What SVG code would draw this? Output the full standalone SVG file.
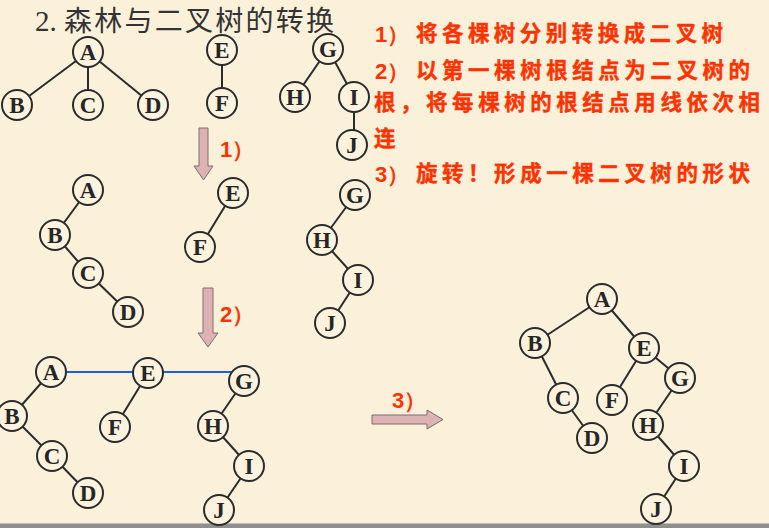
<svg xmlns="http://www.w3.org/2000/svg" width="769" height="528" viewBox="0 0 769 528">
<style>
.n circle{fill:#FCF2DD;stroke:#2b2b2b;stroke-width:2}
.n text{font-family:"Liberation Serif","Times New Roman",serif;font-weight:bold;font-size:23px;fill:#262626;text-anchor:middle}
.e line{stroke:#2b2b2b;stroke-width:2}
.b line{stroke:#1a5fe0;stroke-width:2}
.arr{fill:#DDB2B3;stroke:#7d6d6d;stroke-width:1}
.red{font-family:"Noto Sans CJK SC",sans-serif;font-weight:bold;font-size:21.5px;fill:#FF3300;stroke:#FF3300;stroke-width:0.4}
.dig{font-family:"Liberation Sans",Arial,sans-serif;font-weight:bold;font-size:22px;fill:#FF3300}
</style>
<rect x="0" y="0" width="769" height="528" fill="#FBF1DB"/>
<rect x="0" y="523" width="769" height="5" fill="#8f8f8f"/>
<rect x="0" y="523" width="769" height="1" fill="#bdbdbd"/>

<text x="35" y="31" fill="#333" font-size="28"><tspan font-family="Liberation Serif,serif" font-size="29">2.</tspan><tspan x="64" font-family="Noto Sans CJK SC,sans-serif" textLength="270" lengthAdjust="spacing">森林与二叉树的转换</tspan></text>

<g id="steps">
<text class="dig" x="375" y="42">1）</text>
<text class="red" x="416" y="41" textLength="307" lengthAdjust="spacing">将各棵树分别转换成二叉树</text>
<text class="dig" x="375" y="79">2）</text>
<text class="red" x="416" y="78" textLength="334" lengthAdjust="spacing">以第一棵树根结点为二叉树的</text>
<text class="red" x="374" y="110" textLength="386" lengthAdjust="spacing">根，将每棵树的根结点用线依次相</text>
<text class="red" x="374" y="146">连</text>
<text class="dig" x="375" y="182">3）</text>
<text class="red" x="416" y="181" textLength="334" lengthAdjust="spacing">旋转！形成一棵二叉树的形状</text>
</g>

<g id="arrows">
<polygon class="arr" points="199,128 208,128 208,166 213,166 203.5,180 194,166 199,166"/>
<text class="dig" x="220" y="157">1）</text>
<polygon class="arr" points="203,288 213,288 213,333 218,333 208,347 198,333 203,333"/>
<text class="dig" x="220" y="322">2）</text>
<polygon class="arr" points="372,415 427,415 427,410 443,419.5 427,429 427,424 372,424"/>
<text class="dig" x="392" y="408">3）</text>
</g>

<g id="connectors">
<g class="e">
<line x1="88" y1="52" x2="17" y2="105"/><line x1="88" y1="52" x2="88" y2="105"/><line x1="88" y1="52" x2="153" y2="105"/>
<line x1="222" y1="50" x2="222" y2="103"/>
<line x1="328" y1="49" x2="295" y2="97"/><line x1="328" y1="49" x2="354" y2="97"/><line x1="354" y1="97" x2="354" y2="145"/>
<line x1="88" y1="190" x2="55" y2="235"/><line x1="55" y1="235" x2="88" y2="273"/><line x1="88" y1="273" x2="128" y2="312"/>
<line x1="233" y1="193" x2="200" y2="247"/>
<line x1="355" y1="195" x2="322" y2="240"/><line x1="322" y1="240" x2="358" y2="280"/><line x1="358" y1="280" x2="330" y2="323"/>
<line x1="51" y1="372" x2="12" y2="416"/><line x1="12" y1="416" x2="52" y2="456"/><line x1="52" y1="456" x2="88" y2="493"/>
<line x1="148" y1="373" x2="115" y2="427"/>
<line x1="244" y1="381" x2="213" y2="426"/><line x1="213" y1="426" x2="249" y2="466"/><line x1="249" y1="466" x2="219" y2="510"/>
<line x1="602" y1="299" x2="535" y2="343"/><line x1="602" y1="299" x2="644" y2="348"/>
<line x1="535" y1="343" x2="563" y2="398"/><line x1="563" y1="398" x2="592" y2="438"/>
<line x1="644" y1="348" x2="612" y2="400"/><line x1="644" y1="348" x2="680" y2="378"/>
<line x1="680" y1="378" x2="648" y2="425"/><line x1="648" y1="425" x2="684" y2="466"/><line x1="684" y1="466" x2="656" y2="509"/>
</g>
<g class="b">
<line x1="66" y1="372" x2="133" y2="372"/><line x1="163" y1="372" x2="232" y2="372"/>
</g>
</g>

<g id="forest">
<g id="f-A" class="n"><circle cx="88" cy="52" r="15"/><text x="88" y="60">A</text></g>
<g id="f-B" class="n"><circle cx="17" cy="105" r="15"/><text x="17" y="113">B</text></g>
<g id="f-C" class="n"><circle cx="88" cy="105" r="15"/><text x="88" y="113">C</text></g>
<g id="f-D" class="n"><circle cx="153" cy="105" r="15"/><text x="153" y="113">D</text></g>
<g id="f-E" class="n"><circle cx="222" cy="50" r="15"/><text x="222" y="58">E</text></g>
<g id="f-F" class="n"><circle cx="222" cy="103" r="15"/><text x="222" y="111">F</text></g>
<g id="f-G" class="n"><circle cx="328" cy="49" r="15"/><text x="328" y="57">G</text></g>
<g id="f-H" class="n"><circle cx="295" cy="97" r="15"/><text x="295" y="105">H</text></g>
<g id="f-I" class="n"><circle cx="354" cy="97" r="15"/><text x="354" y="105">I</text></g>
<g id="f-J" class="n"><circle cx="352" cy="145" r="15"/><text x="352" y="153">J</text></g>
</g>

<g id="step1">
<g id="s1-A" class="n"><circle cx="88" cy="190" r="15"/><text x="88" y="198">A</text></g>
<g id="s1-B" class="n"><circle cx="55" cy="235" r="15"/><text x="55" y="243">B</text></g>
<g id="s1-C" class="n"><circle cx="88" cy="273" r="15"/><text x="88" y="281">C</text></g>
<g id="s1-D" class="n"><circle cx="128" cy="312" r="15"/><text x="128" y="320">D</text></g>
<g id="s1-E" class="n"><circle cx="233" cy="193" r="15"/><text x="233" y="201">E</text></g>
<g id="s1-F" class="n"><circle cx="200" cy="247" r="15"/><text x="200" y="255">F</text></g>
<g id="s1-G" class="n"><circle cx="355" cy="195" r="15"/><text x="355" y="203">G</text></g>
<g id="s1-H" class="n"><circle cx="322" cy="240" r="15"/><text x="322" y="248">H</text></g>
<g id="s1-I" class="n"><circle cx="358" cy="280" r="15"/><text x="358" y="288">I</text></g>
<g id="s1-J" class="n"><circle cx="330" cy="323" r="15"/><text x="330" y="331">J</text></g>
</g>

<g id="step2">
<g id="s2-A" class="n"><circle cx="51" cy="372" r="15"/><text x="51" y="380">A</text></g>
<g id="s2-B" class="n"><circle cx="12" cy="416" r="15"/><text x="12" y="424">B</text></g>
<g id="s2-C" class="n"><circle cx="52" cy="456" r="15"/><text x="52" y="464">C</text></g>
<g id="s2-D" class="n"><circle cx="88" cy="493" r="15"/><text x="88" y="501">D</text></g>
<g id="s2-E" class="n"><circle cx="148" cy="373" r="15"/><text x="148" y="381">E</text></g>
<g id="s2-F" class="n"><circle cx="115" cy="427" r="15"/><text x="115" y="435">F</text></g>
<g id="s2-G" class="n"><circle cx="244" cy="381" r="15"/><text x="244" y="389">G</text></g>
<g id="s2-H" class="n"><circle cx="213" cy="426" r="15"/><text x="213" y="434">H</text></g>
<g id="s2-I" class="n"><circle cx="249" cy="466" r="15"/><text x="249" y="474">I</text></g>
<g id="s2-J" class="n"><circle cx="219" cy="510" r="15"/><text x="219" y="518">J</text></g>
</g>

<g id="final">
<g id="t-A" class="n"><circle cx="602" cy="299" r="15"/><text x="602" y="307">A</text></g>
<g id="t-B" class="n"><circle cx="535" cy="343" r="15"/><text x="535" y="351">B</text></g>
<g id="t-E" class="n"><circle cx="644" cy="348" r="15"/><text x="644" y="356">E</text></g>
<g id="t-C" class="n"><circle cx="563" cy="398" r="15"/><text x="563" y="406">C</text></g>
<g id="t-F" class="n"><circle cx="612" cy="400" r="15"/><text x="612" y="408">F</text></g>
<g id="t-G" class="n"><circle cx="680" cy="378" r="15"/><text x="680" y="386">G</text></g>
<g id="t-D" class="n"><circle cx="592" cy="438" r="15"/><text x="592" y="446">D</text></g>
<g id="t-H" class="n"><circle cx="648" cy="425" r="15"/><text x="648" y="433">H</text></g>
<g id="t-I" class="n"><circle cx="684" cy="466" r="15"/><text x="684" y="474">I</text></g>
<g id="t-J" class="n"><circle cx="656" cy="509" r="15"/><text x="656" y="517">J</text></g>
</g>
</svg>
